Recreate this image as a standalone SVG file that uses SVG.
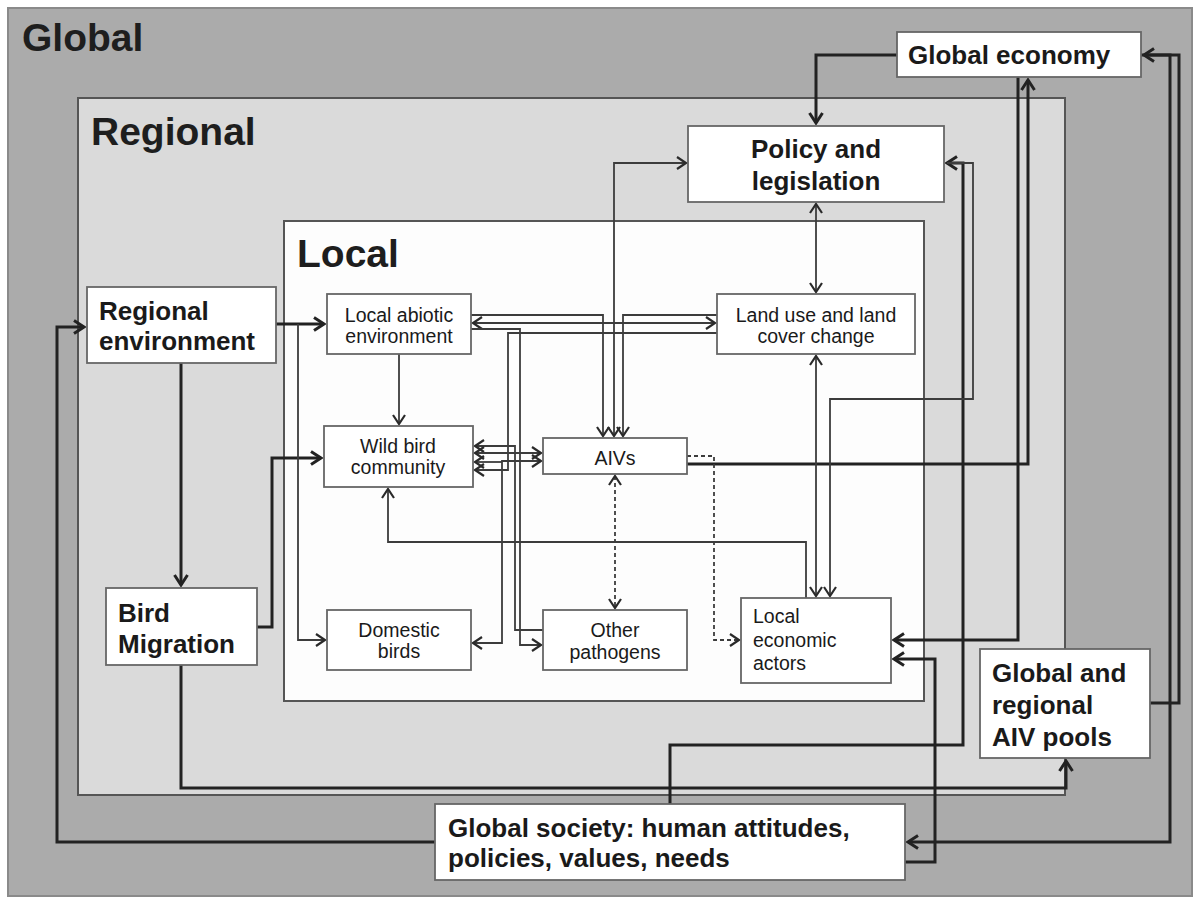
<svg xmlns="http://www.w3.org/2000/svg" width="1201" height="902" viewBox="0 0 1201 902">
<style>
.big{font-family:"Liberation Sans",Arial,sans-serif;font-weight:bold;font-size:39px;fill:#1e1e1e}
.b{font-family:"Liberation Sans",Arial,sans-serif;font-weight:bold;font-size:26px;fill:#1a1a1a}
.n{font-family:"Liberation Sans",Arial,sans-serif;font-size:19.5px;fill:#1a1a1a}
.box{fill:#ffffff;stroke:#666;stroke-width:1.8}
.k{fill:none;stroke:#222;stroke-width:3}
.t{fill:none;stroke:#3c3c3c;stroke-width:1.8}
.d{fill:none;stroke:#3c3c3c;stroke-width:1.8;stroke-dasharray:4 3}
</style>
<defs>
<marker id="ak" viewBox="-12 -9 14 18" refX="0" refY="0" markerWidth="14" markerHeight="18" markerUnits="userSpaceOnUse" orient="auto-start-reverse">
<path d="M-10,-6.5 L0,0 L-10,6.5" fill="none" stroke="#222" stroke-width="3"/>
</marker>
<marker id="at" viewBox="-12 -9 14 18" refX="0" refY="0" markerWidth="14" markerHeight="18" markerUnits="userSpaceOnUse" orient="auto-start-reverse">
<path d="M-9,-6 L0,0 L-9,6" fill="none" stroke="#2a2a2a" stroke-width="2.2"/>
</marker>
</defs>

<g id="levels">
<rect x="8" y="8" width="1184" height="888" fill="#ababab" stroke="#8a8a8a" stroke-width="2"/>
<text class="big" x="22" y="51">Global</text>
<rect x="78" y="98" width="987" height="697" fill="#dadada" stroke="#555" stroke-width="2"/>
<text class="big" x="91" y="145">Regional</text>
<rect x="284" y="221" width="640" height="480" fill="#fdfdfd" stroke="#555" stroke-width="2"/>
<text class="big" x="297" y="267">Local</text>
</g>

<g id="connectors">
<path class="k" d="M897,55 H816 V123" marker-end="url(#ak)"/>
<path class="k" d="M687,464 H1028 V80" marker-end="url(#ak)"/>
<path class="k" d="M1018,77 V640 H894" marker-end="url(#ak)"/>
<path class="k" d="M670,804 V745 H963 V163 H947" marker-end="url(#ak)"/>
<path class="k" d="M1150,703 H1179 V55 H1144" marker-end="url(#ak)"/>
<path class="k" d="M1141,55 H1170 V842 H908" marker-end="url(#ak)"/>
<path class="k" d="M905,862 H935 V659 H894" marker-end="url(#ak)"/>
<path class="k" d="M435,842 H57 V327 H84" marker-end="url(#ak)"/>
<path class="k" d="M181,665 V788 H1066 V761" marker-end="url(#ak)"/>
<path class="k" d="M181,363 V585" marker-end="url(#ak)"/>
<path class="k" d="M257,627 H272 V458 H321" marker-end="url(#ak)"/>
<path class="k" d="M276,324 H324" marker-end="url(#ak)"/>

<path class="t" d="M298,324 V640 H325" marker-end="url(#at)"/>
<path class="t" d="M399,354 V424" marker-end="url(#at)"/>
<path class="t" d="M471,315 H603 V436" marker-end="url(#at)"/>
<path class="t" d="M473,323 H715" marker-start="url(#at)" marker-end="url(#at)"/>
<path class="t" d="M471,329 H520 V645 H541" marker-end="url(#at)"/>
<path class="t" d="M717,315 H623 V436" marker-end="url(#at)"/>
<path class="t" d="M717,333 H508 V470 H475" marker-end="url(#at)"/>
<path class="t" d="M543,630 H515 V446 H475" marker-end="url(#at)"/>
<path class="t" d="M475,453 H541" marker-start="url(#at)" marker-end="url(#at)"/>
<path class="t" d="M473,643 H502 V461 H541" marker-start="url(#at)" marker-end="url(#at)"/>
<path class="t" d="M502,462 H475" marker-end="url(#at)"/>
<path class="t" d="M686,163 H614 V436" marker-start="url(#at)" marker-end="url(#at)"/>
<path class="t" d="M816,204 V292" marker-start="url(#at)" marker-end="url(#at)"/>
<path class="t" d="M816,356 V596" marker-start="url(#at)" marker-end="url(#at)"/>
<path class="t" d="M947,163 H973 V399 H830 V596" marker-end="url(#at)"/>
<path class="t" d="M806,598 V542 H388 V489" marker-end="url(#at)"/>
<path class="d" d="M615,476 V608" marker-start="url(#at)" marker-end="url(#at)"/>
<path class="d" d="M687,456 H714 V640 H739" marker-end="url(#at)"/>
</g>

<g id="global-economy">
<rect class="box" x="897" y="32" width="244" height="45"/>
<text class="b" x="908" y="64">Global economy</text>
</g>
<g id="policy-legislation">
<rect class="box" x="688" y="126" width="256" height="76"/>
<text class="b" x="816" y="158" text-anchor="middle">Policy and</text>
<text class="b" x="816" y="190" text-anchor="middle">legislation</text>
</g>
<g id="regional-environment">
<rect class="box" x="87" y="287" width="189" height="76"/>
<text class="b" x="99" y="320">Regional</text>
<text class="b" x="99" y="350">environment</text>
</g>
<g id="bird-migration">
<rect class="box" x="106" y="588" width="151" height="77"/>
<text class="b" x="118" y="622">Bird</text>
<text class="b" x="118" y="653">Migration</text>
</g>
<g id="local-abiotic-environment">
<rect class="box" x="327" y="294" width="144" height="60"/>
<text class="n" x="399" y="322" text-anchor="middle">Local abiotic</text>
<text class="n" x="399" y="343" text-anchor="middle">environment</text>
</g>
<g id="wild-bird-community">
<rect class="box" x="324" y="426" width="149" height="61"/>
<text class="n" x="398" y="453" text-anchor="middle">Wild bird</text>
<text class="n" x="398" y="474" text-anchor="middle">community</text>
</g>
<g id="aivs">
<rect class="box" x="543" y="438" width="144" height="36"/>
<text class="n" x="615" y="465" text-anchor="middle">AIVs</text>
</g>
<g id="land-use">
<rect class="box" x="717" y="294" width="198" height="60"/>
<text class="n" x="816" y="322" text-anchor="middle">Land use and land</text>
<text class="n" x="816" y="343" text-anchor="middle">cover change</text>
</g>
<g id="domestic-birds">
<rect class="box" x="327" y="610" width="144" height="60"/>
<text class="n" x="399" y="637" text-anchor="middle">Domestic</text>
<text class="n" x="399" y="658" text-anchor="middle">birds</text>
</g>
<g id="other-pathogens">
<rect class="box" x="543" y="610" width="144" height="60"/>
<text class="n" x="615" y="637" text-anchor="middle">Other</text>
<text class="n" x="615" y="659" text-anchor="middle">pathogens</text>
</g>
<g id="local-economic-actors">
<rect class="box" x="741" y="598" width="150" height="85"/>
<text class="n" x="753" y="623">Local</text>
<text class="n" x="753" y="647">economic</text>
<text class="n" x="753" y="670">actors</text>
</g>
<g id="aiv-pools">
<rect class="box" x="980" y="649" width="170" height="109"/>
<text class="b" x="992" y="682">Global and</text>
<text class="b" x="992" y="714">regional</text>
<text class="b" x="992" y="746">AIV pools</text>
</g>
<g id="global-society">
<rect class="box" x="435" y="804" width="470" height="76"/>
<text class="b" x="448" y="837">Global society: human attitudes,</text>
<text class="b" x="448" y="867">policies, values, needs</text>
</g>
</svg>
